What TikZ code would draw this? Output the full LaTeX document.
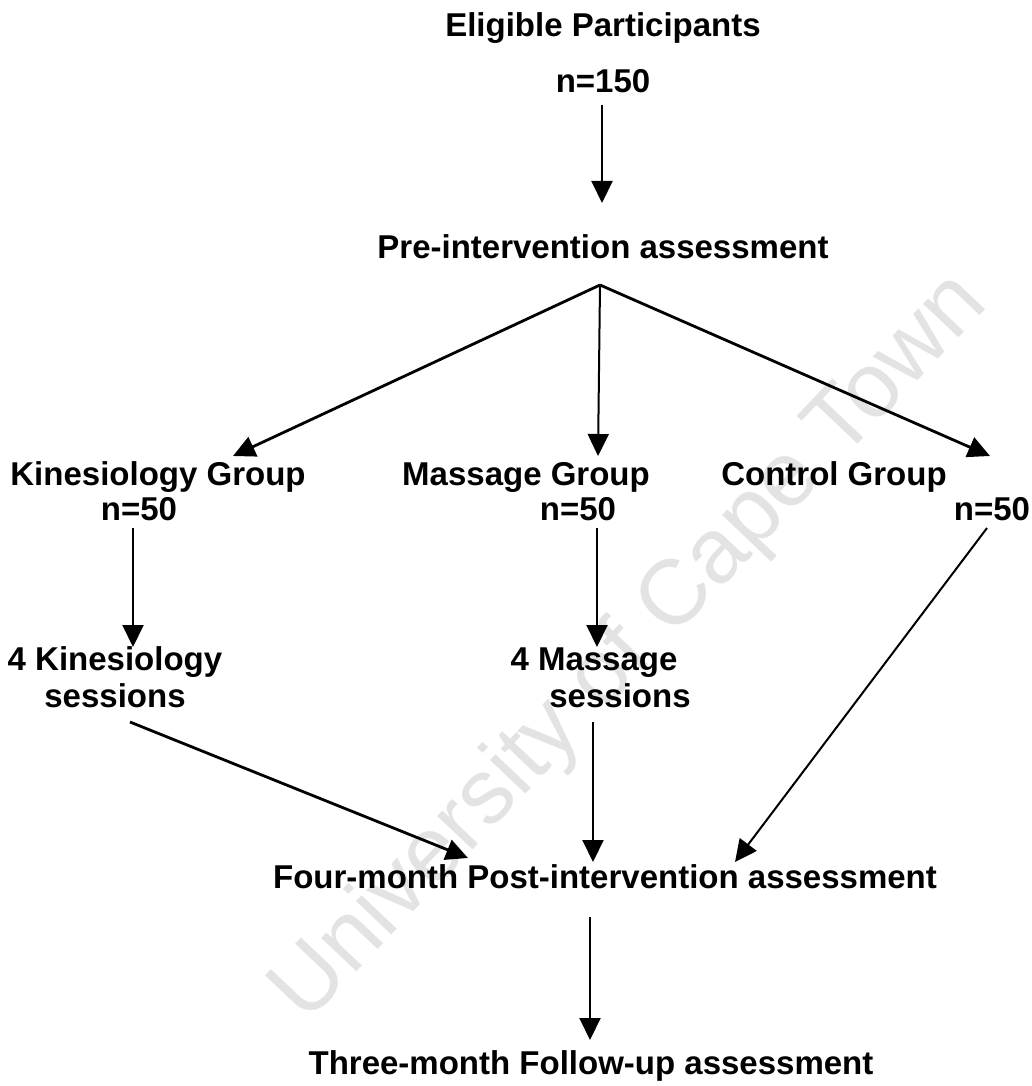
\documentclass[tikz,border=0pt]{standalone}
\usepackage{fontspec}
\setmainfont{Liberation Sans}
\usetikzlibrary{arrows.meta}
\begin{document}
\begin{tikzpicture}[x=1pt,y=-1pt,
  lbl/.style={inner sep=0pt, anchor=base, font=\fontsize{33}{37}\selectfont\bfseries},
  arr/.style={line width=2pt, -{Triangle[length=22pt,width=21pt]}},
  darr/.style={line width=2.8pt, -{Triangle[length=22pt,width=21pt]}},
  wmark/.style={inner sep=0pt, anchor=base, text=black!11, font=\fontsize{92}{100}\selectfont, rotate=46.5}]
\useasboundingbox (0,0) rectangle (1031,1086);
% watermark
\node[wmark] (wm) at (648,665) {University of Cape Town};
% texts
\node[lbl] (elig) at (603,37) {Eligible Participants};
\node[lbl] (n150) at (603,93) {n=150};
\node[lbl] (pre) at (603,258) {Pre-intervention assessment};
\node[lbl] (grpK) at (158,485) {Kinesiology Group};
\node[lbl] (nK) at (139,520) {n=50};
\node[lbl] (grpM) at (526,485) {Massage Group};
\node[lbl] (nM) at (578,520) {n=50};
\node[lbl] (grpC) at (834,485) {Control Group};
\node[lbl] (nC) at (992,520) {n=50};
\node[lbl, align=center] (sessK) at (115,707) {4 Kinesiology\\sessions};
\node[lbl, align=center] (sessM) at (620,707) {\hspace*{-52pt}4 Massage\\sessions};
\node[lbl] (post) at (605,888) {Four-month Post-intervention assessment};
\node[lbl] (follow) at (591,1074) {Three-month Follow-up assessment};
% connector points
\coordinate (a1s) at (602,105);
\coordinate (a1e) at (602,203);
\coordinate (apex) at (600,285);
\coordinate (tipK) at (233,456);
\coordinate (tipM) at (598,456);
\coordinate (tipC) at (990,456);
\coordinate (kS) at (133,528);
\coordinate (kE) at (133,647);
\coordinate (mS) at (597,528);
\coordinate (mE) at (597,647);
\coordinate (ksS) at (130,722);
\coordinate (ksE) at (468,858);
\coordinate (msS) at (593,722);
\coordinate (msE) at (593,862);
\coordinate (cS) at (987,528);
\coordinate (cE) at (735,862);
\coordinate (pS) at (590,917);
\coordinate (pE) at (590,1040);
% connectors
\draw[arr] (a1s) -- (a1e);
\draw[darr] (apex) -- (tipK);
\draw[arr] (apex) -- (tipM);
\draw[darr] (apex) -- (tipC);
\draw[arr] (kS) -- (kE);
\draw[arr] (mS) -- (mE);
\draw[darr] (ksS) -- (ksE);
\draw[arr] (msS) -- (msE);
\draw[arr] (cS) -- (cE);
\draw[arr] (pS) -- (pE);
\end{tikzpicture}
\end{document}
